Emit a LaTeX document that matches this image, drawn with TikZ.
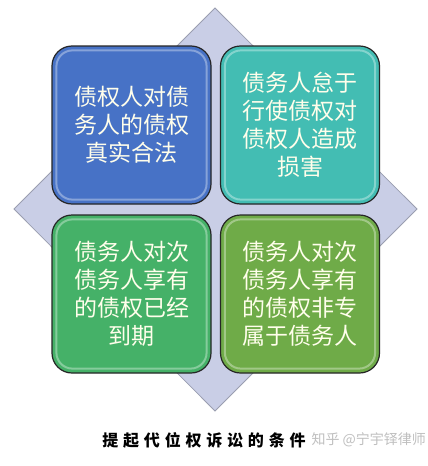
\documentclass[tikz,border=0pt]{standalone}
\usepackage{fontspec}
\newfontfamily\cjk{Noto Sans CJK SC}
\newfontfamily\cjkcap[LetterSpace=30]{Noto Sans CJK SC}
\usepackage{tikz}
\usetikzlibrary{calc,positioning}

\definecolor{diafill}{HTML}{C9CEE6}
\definecolor{diaedge}{HTML}{9A9EB0}
\definecolor{qblue}{HTML}{4772C6}
\definecolor{qteal}{HTML}{43BDB3}
\definecolor{qgreen}{HTML}{45B168}
\definecolor{qolive}{HTML}{6FAB48}
\tikzset{
    quad/.style={draw=black!85,line width=1.2pt,rounded corners=20pt,
        minimum width=159pt,minimum height=158pt,inner sep=0pt,
        align=center,font=\cjk\fontsize{23}{28}\selectfont,text=white!92!yellow},
}

\begin{document}
\begin{tikzpicture}[x=1pt,y=-1pt]
        \useasboundingbox[fill=white] (0,0) rectangle (428,466);
        \coordinate (T) at (215,8);
        \coordinate (R) at (417,209);
        \coordinate (B) at (215,411);
        \coordinate (L) at (14,209);
        \draw[fill=diafill,draw=diaedge,line width=0.8pt] (T)--(R)--(B)--(L)--cycle;
        \node[quad,fill=qblue] (q1) at (131.5,125) {债权人对债\\务人的债权\\真实合法};
        \node[quad,fill=qteal] (q2) at (300,125) {债务人怠于\\行使债权对\\债权人造成\\损害};
        \node[quad,fill=qgreen] (q3) at (131.5,294) {债务人对次\\债务人享有\\的债权已经\\到期};
        \node[quad,fill=qolive] (q4) at (300,294) {债务人对次\\债务人享有\\的债权非专\\属于债务人};
        % glossy inner rim
        \foreach \q in {q1,q2,q3,q4}
            {
                \draw[white,opacity=0.35,line width=2pt,rounded corners=16pt]
                    ($(\q.north west)+(5,5)$) rectangle ($(\q.south east)+(-5,-5)$);
            }
        \node[font=\cjkcap\bfseries\fontsize{16}{18}\selectfont] (cap) at (204,440) {提起代位权诉讼的条件};
        \node[font=\cjk\fontsize{14}{16}\selectfont,text=black!25,anchor=west] (mark) at (308,440) {知乎 @宁宇铎律师};
\end{tikzpicture}
\end{document}
